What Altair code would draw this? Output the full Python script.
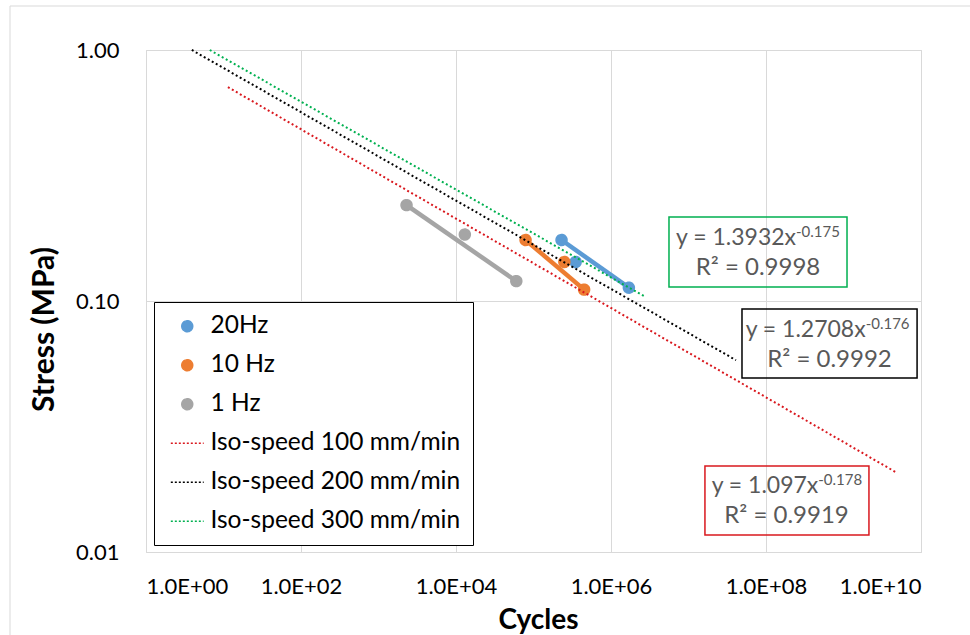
import altair as alt
import pandas as pd

# ---------------- data ----------------
series_names = ["20Hz", "10 Hz", "1 Hz"]
cycles_20hz = [2.3e5, 3.5e5, 1.7e6]
stress_20hz = [0.175, 0.143, 0.113]
cycles_10hz = [7.9e4, 2.5e5, 4.5e5]
stress_10hz = [0.175, 0.143, 0.111]
cycles_1hz = [2.3e3, 1.3e4, 6.0e4]
stress_1hz = [0.241, 0.184, 0.120]

iso_names = ["Iso-speed 100 mm/min", "Iso-speed 200 mm/min", "Iso-speed 300 mm/min"]
iso_coef = [1.097, 1.2708, 1.3932]
iso_exp = [-0.178, -0.176, -0.175]
iso_r2 = ["0.9919", "0.9992", "0.9998"]
iso_x_start = [11.4, 3.9, 6.65]
iso_x_end = [4.8e9, 4.1e7, 2.7e6]

series_colors = ["#5B9BD5", "#ED7D31", "#A5A5A5", "#D9181E", "#000000", "#00B050"]

x_ticks = [1, 1e2, 1e4, 1e6, 1e8, 1e10]
y_ticks = [0.01, 0.1, 1]

# annotation boxes (data coordinates), one per iso-speed line
box_x1 = [1.63e7, 4.9e7, 5.6e6]
box_x2 = [2.13e9, 8.9e9, 1.11e9]
box_y1 = [0.0117, 0.0493, 0.1137]
box_y2 = [0.0220, 0.0929, 0.216]
box_xc = [1.84e8, 6.59e8, 7.89e7]
box_yc = [0.01611, 0.0677, 0.1567]
box_xeq = [4.73e8, 1.93e9, 2.44e8]

# ---------------- tables ----------------
all_names = series_names + iso_names
data_cycles = [cycles_20hz, cycles_10hz, cycles_1hz]
data_stress = [stress_20hz, stress_10hz, stress_1hz]

pts = pd.DataFrame(
    [
        {"series": n, "cycles": c, "stress": s}
        for n, cs, ss in zip(series_names, data_cycles, data_stress)
        for c, s in zip(cs, ss)
    ]
)

data_lines = pd.DataFrame(
    [
        {"series": n, "cycles": cs[i], "stress": ss[i]}
        for n, cs, ss in zip(series_names, data_cycles, data_stress)
        for i in (0, -1)
    ]
)

iso_lines = pd.DataFrame(
    [
        {"series": n, "cycles": x, "stress": a * x ** b}
        for n, a, b, x0, x1 in zip(iso_names, iso_coef, iso_exp, iso_x_start, iso_x_end)
        for x in (x0, x1)
    ]
)

ann = pd.DataFrame(
    {
        "series": iso_names,
        "bx1": box_x1,
        "bx2": box_x2,
        "by1": box_y1,
        "by2": box_y2,
        "xc": box_xc,
        "yc": box_yc,
        "xeq": box_xeq,
        "main": [f"y = {a}x" for a in iso_coef],
        "sup": [f"{b}" for b in iso_exp],
        "r2": [f"R\u00b2 = {r}" for r in iso_r2],
    }
)

FONT = "Lato"

xscale = alt.Scale(type="log", domain=[1, 1e10], nice=False)
yscale = alt.Scale(type="log", domain=[0.01, 1], nice=False)

xaxis = alt.Axis(
    values=x_ticks,
    labelExpr="'1.0E+' + (round(log(datum.value)/LN10) < 10 ? '0' : '') + round(log(datum.value)/LN10)",
    grid=True,
    gridColor="#D9D9D9",
    domain=False,
    ticks=False,
    labelFont=FONT,
    labelFontSize=22,
    labelColor="#000000",
    labelPadding=41,
    labelBaseline="alphabetic",
    titleFont=FONT,
    titleFontSize=28,
    titleFontWeight="bold",
    titleColor="#000000",
    titleX=392,
    titleY=76,
    titleAlign="center",
    titleBaseline="alphabetic",
)
yaxis = alt.Axis(
    values=y_ticks,
    format=".2f",
    grid=True,
    gridColor="#D9D9D9",
    domain=False,
    ticks=False,
    labelFont=FONT,
    labelFontSize=22,
    labelColor="#000000",
    labelPadding=27,
    titleFont=FONT,
    titleFontSize=30,
    titleFontWeight="bold",
    titleColor="#000000",
    titleAngle=270,
    titleX=-93,
    titleY=279,
    titleAlign="center",
    titleBaseline="alphabetic",
)

X = lambda f: alt.X(f"{f}:Q", scale=xscale, axis=xaxis, title="Cycles")
Y = lambda f: alt.Y(f"{f}:Q", scale=yscale, axis=yaxis, title="Stress (MPa)")

# legend channels (fill/stroke/shape/strokeDash) share one domain order
legend_color_scale = alt.Scale(domain=all_names, range=series_colors)
shape_scale = alt.Scale(domain=all_names, range=["circle"] * 3 + ["M-3,0H3"] * 3)
dash_scale = alt.Scale(domain=all_names, range=[[1, 0]] * 3 + [[2, 2]] * 3)
# line colour scale: same mapping, different domain order (kept out of the legend)
line_color_scale = alt.Scale(domain=all_names[::-1], range=series_colors[::-1])

leg = alt.Legend(
    title=None,
    orient="none",
    legendX=8,
    legendY=252,
    fillColor="white",
    strokeColor="black",
    padding=12,
    labelFont=FONT,
    labelFontSize=24.5,
    labelColor="#000000",
    labelLimit=500,
    symbolSize=120,
    symbolStrokeWidth=1.5,
    symbolOffset=9,
    labelOffset=11,
    rowPadding=14,
)

frame = alt.Chart(pd.DataFrame({"k": [0]})).mark_rect(
    fillOpacity=0, stroke="#D9D9D9", strokeWidth=1
).encode(
    x=alt.value(-136), x2=alt.value(900), y=alt.value(-44), y2=alt.value(700)
)

boxes = alt.Chart(ann).mark_rect(filled=False, strokeWidth=1.5).encode(
    x=X("bx1"),
    x2=alt.X2("bx2", title="Cycles"),
    y=Y("by1"),
    y2=alt.Y2("by2", title="Stress (MPa)"),
    color=alt.Color("series:N", scale=line_color_scale, legend=None),
)

dlines = alt.Chart(data_lines).mark_line(strokeWidth=4.5).encode(
    x=X("cycles"),
    y=Y("stress"),
    color=alt.Color("series:N", scale=line_color_scale, legend=None),
    detail="series:N",
)

points = alt.Chart(pts).mark_point(filled=True, size=120, strokeWidth=1.5, opacity=1).encode(
    x=X("cycles"),
    y=Y("stress"),
    fill=alt.Fill("series:N", scale=legend_color_scale, legend=leg),
    stroke=alt.Stroke("series:N", scale=legend_color_scale, legend=leg),
    shape=alt.Shape("series:N", scale=shape_scale, legend=leg),
    strokeDash=alt.StrokeDash("series:N", scale=dash_scale, legend=leg),
)

ilines = alt.Chart(iso_lines).mark_line(strokeWidth=2, strokeDash=[2, 2.6]).encode(
    x=X("cycles"),
    y=Y("stress"),
    color=alt.Color("series:N", scale=line_color_scale, legend=None),
    detail="series:N",
)

txt_main = alt.Chart(ann).mark_text(
    align="right", baseline="alphabetic", dy=-7, fontSize=23, font=FONT, color="#595959"
).encode(x=X("xeq"), y=Y("yc"), text="main:N")

txt_sup = alt.Chart(ann).mark_text(
    align="left", baseline="alphabetic", dy=-15, fontSize=15, font=FONT, color="#595959"
).encode(x=X("xeq"), y=Y("yc"), text="sup:N")

txt_r2 = alt.Chart(ann).mark_text(
    align="center", baseline="alphabetic", dy=23, fontSize=24, font=FONT, color="#595959"
).encode(x=X("xc"), y=Y("yc"), text="r2:N")

chart = (
    alt.layer(frame, boxes, dlines, points, ilines, txt_main, txt_sup, txt_r2)
    .properties(
        width=775,
        height=502,
        padding={"left": 146, "top": 50, "right": 49, "bottom": 83},
        autosize=alt.AutoSizeParams(type="none"),
        background="white",
    )
    .configure_view(stroke="#D9D9D9", strokeWidth=1)
)

chart.save("out.html", embed_options={"renderer": "svg", "actions": False})
